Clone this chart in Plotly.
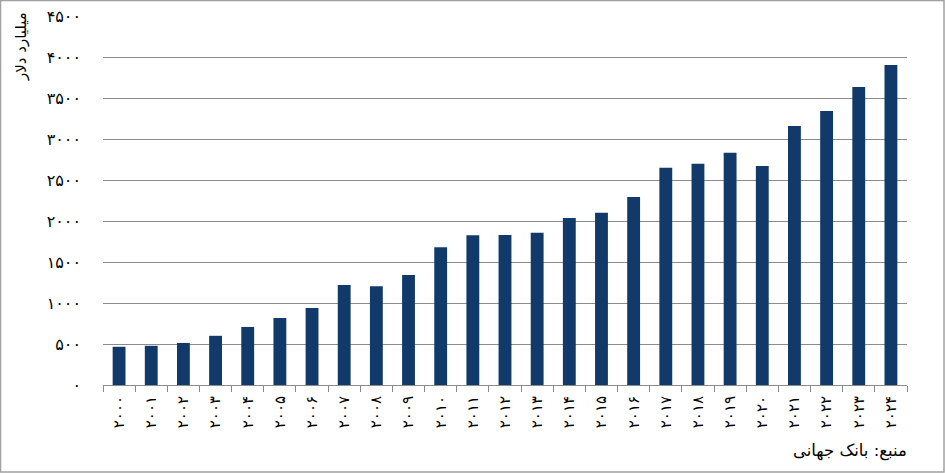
import plotly.graph_objects as go

years = ["۲۰۰۰", "۲۰۰۱", "۲۰۰۲", "۲۰۰۳", "۲۰۰۴", "۲۰۰۵", "۲۰۰۶", "۲۰۰۷", "۲۰۰۸", "۲۰۰۹",
         "۲۰۱۰", "۲۰۱۱", "۲۰۱۲", "۲۰۱۳", "۲۰۱۴", "۲۰۱۵", "۲۰۱۶", "۲۰۱۷", "۲۰۱۸", "۲۰۱۹",
         "۲۰۲۰", "۲۰۲۱", "۲۰۲۲", "۲۰۲۳", "۲۰۲۴"]
gdp = [466, 478, 513, 600, 708, 818, 938, 1218, 1205, 1342,
       1680, 1827, 1828, 1856, 2037, 2100, 2293, 2648, 2697, 2831,
       2672, 3160, 3342, 3634, 3903]
ytick_vals = [0, 500, 1000, 1500, 2000, 2500, 3000, 3500, 4000, 4500]
ytick_text = ["۰", "۵۰۰", "۱۰۰۰", "۱۵۰۰", "۲۰۰۰", "۲۵۰۰", "۳۰۰۰", "۳۵۰۰", "۴۰۰۰", "۴۵۰۰"]
y_title = "میلیارد دلار"
source = "منبع: بانک جهانی"

W, H = 945, 473
ml, mr, mt, mb = 103, 38, 16, 88
pw, ph = W - ml - mr, H - mt - mb

font_family = "DejaVu Sans, Noto Sans, sans-serif"

fig = go.Figure(go.Bar(x=years, y=gdp, marker=dict(color="#113a6b", line=dict(width=0)),
                       hoverinfo="skip"))

fig.update_layout(
    width=W, height=H,
    margin=dict(l=ml, r=mr, t=mt, b=mb, autoexpand=False),
    paper_bgcolor="white", plot_bgcolor="white",
    bargap=0.6,
    showlegend=False,
    font=dict(family=font_family, color="black", size=13),
    xaxis=dict(
        type="category", tickangle=-90, showgrid=False,
        showline=True, linecolor="#8a8a8a", linewidth=1,
        ticks="outside", tickson="boundaries", ticklen=6, tickcolor="#8a8a8a",
        tickfont=dict(size=15, family=font_family), ticklabelstandoff=4,
    ),
    yaxis=dict(
        range=[0, 4500], tickvals=ytick_vals, ticktext=ytick_text,
        showgrid=True, gridcolor="#8c8c8c", gridwidth=1,
        zeroline=False, showline=False, ticks="",
        tickfont=dict(size=16, family=font_family), ticklabelstandoff=21,
    ),
    annotations=[
        dict(text=y_title, textangle=-90, xref="paper", yref="paper",
             x=-(ml - 21) / pw, y=1 + (mt - 47) / ph, xanchor="center", yanchor="middle",
             showarrow=False, font=dict(size=15, family=font_family)),
        dict(text=source, xref="paper", yref="paper",
             x=1 + (909 - (W - mr)) / pw, y=-(451 - (H - mb)) / ph,
             xanchor="right", yanchor="middle", showarrow=False,
             font=dict(size=16.5, family=font_family)),
    ],
    shapes=[
        dict(type="rect", xref="paper", yref="paper",
             x0=-(ml - 0.5) / pw, x1=1 + (mr - 1) / pw,
             y0=-(mb - 1) / ph, y1=1 + (mt - 0.5) / ph,
             line=dict(color="#a0a0a0", width=1.5), layer="above"),
    ],
)

fig.write_html("out.html", config={"displayModeBar": False},
               post_script="document.body.style.margin='0';document.body.style.padding='0';")
